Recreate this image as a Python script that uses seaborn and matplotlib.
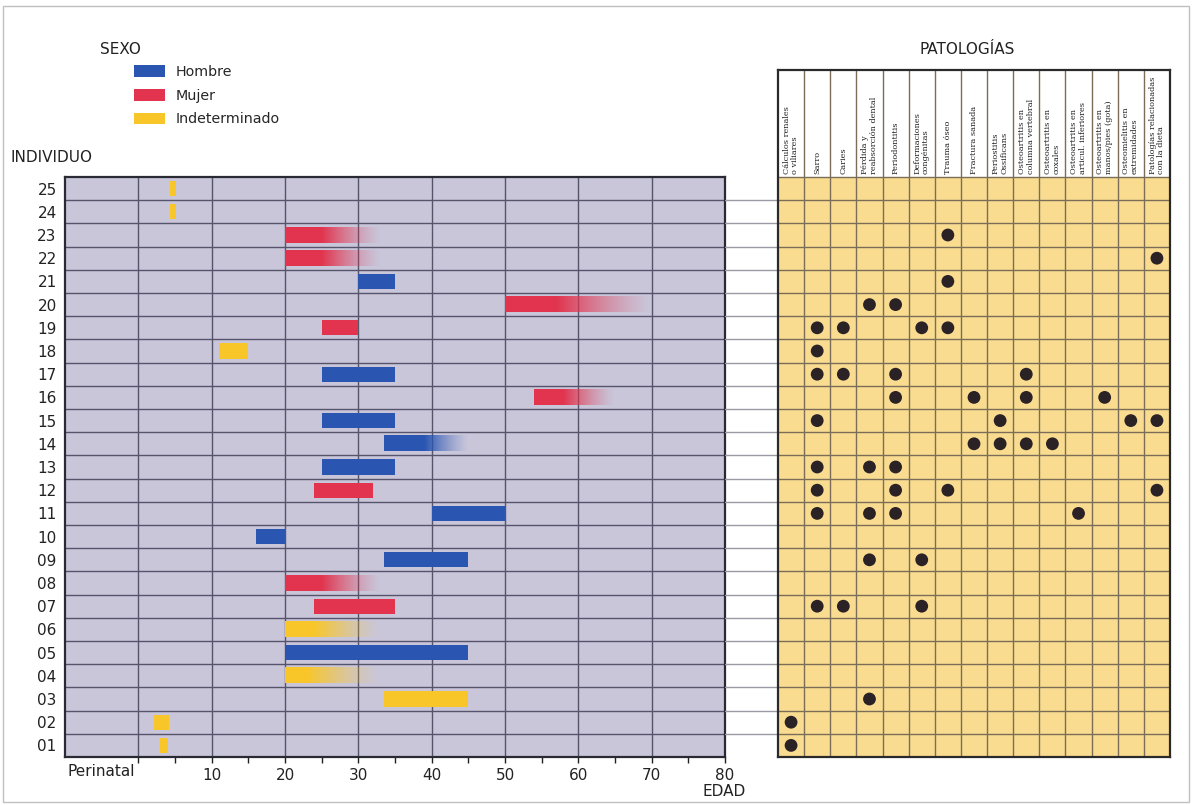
import numpy as np
import pandas as pd
import seaborn as sns
import matplotlib
matplotlib.use('Agg')
import matplotlib.pyplot as plt
from matplotlib.colors import to_rgb
from matplotlib.patches import Patch, Rectangle


# individuals (bottom to top), sex, estimated age range
individuos = ['01', '02', '03', '04', '05', '06', '07', '08', '09', '10', '11', '12', '13',
              '14', '15', '16', '17', '18', '19', '20', '21', '22', '23', '24', '25']
sexo = ['I', 'I', 'I', 'I', 'H', 'I', 'M', 'M', 'H', 'H', 'H', 'M', 'H',
        'H', 'H', 'M', 'H', 'I', 'M', 'M', 'H', 'M', 'M', 'I', 'I']
edad_min = [3, 2.2, 33.5, 20, 20, 20, 24, 20, 33.5, 16, 40, 24, 25,
            33.5, 25, 54, 25, 11, 25, 50, 30, 20, 20, 4.3, 4.3]
edad_max = [4, 4.2, 45, 33, 45, 33, 35, 33, 45, 20, 50, 32, 35,
            45, 35, 65, 35, 15, 30, 70, 35, 33, 33, 5.2, 5.2]
# age where the estimate starts to become uncertain (bar fades); None = solid
edad_difusa = [None, None, None, 23, None, 24, None, 25, None, None, None, None, None,
               39, None, 58, None, None, None, 57, None, 25, 25, None, None]

patologias = ['Cálculos renales\no viliares', 'Sarro', 'Caries',
              'Pérdida y\nreabsorción dental', 'Periodontitis',
              'Deformaciones\ncongénitas', 'Trauma óseo', 'Fractura sanada',
              'Periostitis\nOssificans', 'Osteoartritis en\ncolumna vertebral',
              'Osteoartritis en\ncoxales', 'Osteoartritis en\narticul. inferiores',
              'Osteoartritis en\nmanos/pies (gota)', 'Osteomielitis en\nextremidades',
              'Patologías relacionadas\ncon la dieta']
# individual -> pathology columns (1-based)
casos = {
    '23': [7], '22': [15], '21': [7], '20': [4, 5], '19': [2, 3, 6, 7],
    '18': [2], '17': [2, 3, 5, 10], '16': [5, 8, 10, 13], '15': [2, 9, 14, 15],
    '14': [8, 9, 10, 11], '13': [2, 4, 5], '12': [2, 5, 7, 15],
    '11': [2, 4, 5, 12], '09': [4, 6], '07': [2, 3, 6], '03': [4],
    '02': [1], '01': [1],
}

colores = {'H': '#2a56b2', 'M': '#e2344e', 'I': '#f9c62a'}
nombres = {'H': 'Hombre', 'M': 'Mujer', 'I': 'Indeterminado'}

sns.set_theme(style='white')
plt.rcParams['font.family'] = ['DejaVu Sans']

W, H = 1192, 805
fig = plt.figure(figsize=(W / 100, H / 100), dpi=100)
fig.patch.set_facecolor('white')


def fr(x0, y0, x1, y1):
    return [x0 / W, 1 - y1 / H, (x1 - x0) / W, (y1 - y0) / H]


ax = fig.add_axes(fr(65, 177, 725, 757))
mid = fig.add_axes(fr(725, 177, 778, 757))
axp = fig.add_axes(fr(778, 70, 1170, 757))

# ---- left panel: age ranges ----
ax.set_facecolor('#c9c6da')
n = len(individuos)
ypos = np.arange(1, n + 1)
h = 0.66
for y, s, a, b, d in zip(ypos, sexo, edad_min, edad_max, edad_difusa):
    col = colores[s]
    if d is None:
        ax.barh(y, b - a, left=a, height=h, color=col, edgecolor='none',
                linewidth=0, zorder=3)
    else:
        t = np.linspace(a, b, 300)
        alpha = np.clip(1 - (t - d) / (b - d), 0, 1) ** 1.3
        rgba = np.zeros((1, len(t), 4))
        rgba[..., :3] = to_rgb(col)
        rgba[..., 3] = alpha
        ax.imshow(rgba, extent=(a, b, y - h / 2, y + h / 2), aspect='auto',
                  interpolation='bilinear', zorder=3)

for yb in np.arange(1.5, n, 1):
    ax.axhline(yb, color='#55546a', lw=1, zorder=2)
for xv in range(0, 80, 10):
    ax.axvline(xv, color='#55546a', lw=1, zorder=2)

ax.set_xlim(-10, 80)
ax.set_ylim(0.5, n + 0.5)
ax.set_yticks(ypos)
ax.set_yticklabels(individuos, fontsize=11, color='#222222')
ax.set_xticks(range(0, 81, 10))
ax.set_xticklabels([''] + [str(v) for v in range(10, 81, 10)], fontsize=11, color='#222222')
ax.set_xticks(range(5, 80, 10), minor=True)
ax.tick_params(axis='x', which='both', direction='out', length=4, width=1,
               color='#222222', bottom=True, pad=4)
ax.tick_params(axis='y', length=0, pad=6)
ax.text(-5, -0.012, 'Perinatal', transform=ax.get_xaxis_transform(),
        ha='center', va='top', fontsize=11, color='#222222')
for side in ['left', 'bottom', 'right', 'top']:
    ax.spines[side].set_visible(True)
    ax.spines[side].set_color('#2a2a35')
    ax.spines[side].set_linewidth(1.6)

# ---- connector lines ----
mid.set_xlim(0, 1)
mid.set_ylim(0.5, n + 0.5)
for yb in np.arange(1.5, n, 1):
    mid.axhline(yb, color='#9a9aa5', lw=1)
mid.axis('off')

# ---- right panel: pathologies ----
hdr = 107 / (580 / n)
axp.set_xlim(0.5, len(patologias) + 0.5)
axp.set_ylim(0.5, n + 0.5 + hdr)
axp.add_patch(Rectangle((0.5, 0.5), len(patologias), n, facecolor='#f9dc8f',
                        edgecolor='none', zorder=0))
for yb in np.arange(1.5, n + 1, 1):
    axp.axhline(yb, color='#7b6d58', lw=1, zorder=1)
for xb in np.arange(1.5, len(patologias), 1):
    axp.axvline(xb, color='#7b6d58', lw=1, zorder=1)
for i, lab in enumerate(patologias, start=1):
    axp.text(i, n + 0.5 + 0.12, lab, rotation=90, ha='center', va='bottom',
             multialignment='left', fontsize=5.9, family='DejaVu Serif',
             color='#222222', linespacing=1.1)

rows = []
for ind, cols in casos.items():
    for c in cols:
        rows.append({'individuo': individuos.index(ind) + 1, 'patologia': c})
df = pd.DataFrame(rows)
sns.scatterplot(data=df, x='patologia', y='individuo', ax=axp, s=85,
                color='#2b2226', edgecolor='none', zorder=3, legend=False)
axp.set_xlabel('')
axp.set_ylabel('')
axp.set_xticks([])
axp.set_yticks([])
for side in ['left', 'bottom', 'right', 'top']:
    axp.spines[side].set_visible(True)
    axp.spines[side].set_color('#2a2a2a')
    axp.spines[side].set_linewidth(1.6)

# ---- texts and legend ----
fig.text(100 / W, 1 - 50 / H, 'SEXO', fontsize=11, color='#222222', va='center')
fig.text(10 / W, 1 - 157 / H, 'INDIVIDUO', fontsize=11, color='#222222', va='center')
fig.text(967 / W, 1 - 50 / H, 'PATOLOGÍAS', fontsize=11, color='#222222',
         va='center', ha='center')
fig.text(746 / W, 1 - 791 / H, 'EDAD', fontsize=11, color='#222222',
         va='center', ha='right')

handles = [Patch(facecolor=colores[k], edgecolor='none', label=nombres[k])
           for k in ['H', 'M', 'I']]
fig.legend(handles=handles, loc='upper left', bbox_to_anchor=(134 / W, 1 - 65 / H),
           frameon=False, fontsize=10.3, handlelength=2.2, handleheight=0.9,
           labelspacing=0.68, borderpad=0, borderaxespad=0, handletextpad=0.7)

fig.patches.append(Rectangle((3 / W, 3 / H), 1 - 6 / W, 1 - 9 / H, transform=fig.transFigure,
                             fill=False, edgecolor='#c0c0c0', lw=1))

fig.savefig('out.png', dpi=100)
